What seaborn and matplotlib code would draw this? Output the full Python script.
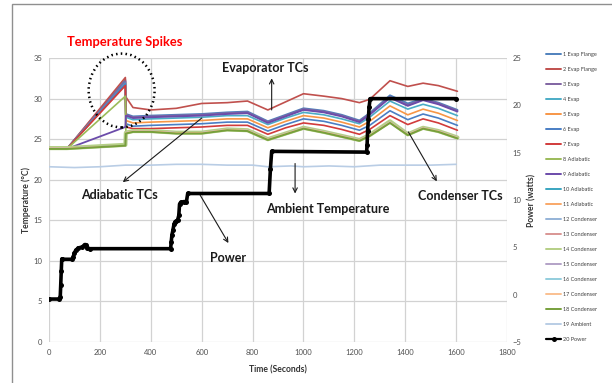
import matplotlib
matplotlib.use("Agg")
import matplotlib.pyplot as plt
import seaborn as sns
from matplotlib.patches import Ellipse, Rectangle

# ---------------- data ----------------
time_s = [0, 70, 300, 302, 330, 400, 500, 600, 700, 780, 860, 930, 1000,
          1080, 1150, 1220, 1260, 1340, 1410, 1470, 1530, 1605]

evap_flange_1 = [23.8, 23.8, 32.3, 28.1, 27.8, 27.9, 28.0, 28.1, 28.3, 28.4, 27.2,
                 28.0, 28.8, 28.5, 28.0, 27.3, 28.2, 30.4, 29.4, 30.0, 29.5, 28.6]
evap_flange_2 = [23.8, 23.8, 32.6, 30.2, 28.9, 28.6, 28.8, 29.4, 29.5, 29.7, 28.6,
                 29.6, 30.6, 30.3, 30.0, 29.5, 29.9, 32.2, 31.5, 31.9, 31.6, 30.9]
evap_3 = [23.8, 23.8, 32.1, 28.0, 27.7, 27.8, 27.9, 28.0, 28.2, 28.3, 27.1,
          27.9, 28.7, 28.4, 27.9, 27.2, 28.1, 30.2, 29.2, 29.9, 29.4, 28.5]
evap_4 = [23.8, 23.8, 31.9, 27.7, 27.4, 27.5, 27.6, 27.7, 27.9, 27.9, 26.8,
          27.6, 28.3, 28.0, 27.5, 26.9, 27.7, 29.7, 28.7, 29.3, 28.8, 27.9]
evap_5 = [23.8, 23.8, 31.7, 27.3, 27.0, 27.1, 27.2, 27.3, 27.5, 27.5, 26.4,
          27.2, 27.9, 27.6, 27.1, 26.5, 27.2, 29.1, 28.0, 28.7, 28.2, 27.3]
evap_6 = [23.8, 23.8, 31.8, 26.9, 26.6, 26.7, 26.8, 26.9, 27.1, 27.1, 26.0,
          26.8, 27.5, 27.2, 26.7, 26.1, 26.7, 28.5, 27.4, 28.1, 27.6, 26.7]
evap_7 = [23.8, 23.8, 31.6, 26.5, 26.3, 26.3, 26.4, 26.5, 26.7, 26.7, 25.6,
          26.4, 27.0, 26.7, 26.2, 25.6, 26.2, 27.9, 26.8, 27.5, 27.0, 26.1]
adiabatic_8 = [23.8, 23.8, 30.3, 25.9, 26.0, 26.0, 25.8, 25.8, 26.2, 26.1, 25.0,
               25.7, 26.4, 25.9, 25.4, 24.9, 25.5, 27.1, 25.6, 26.4, 26.0, 25.2]
adiabatic_9 = [23.8, 23.8, 26.5, 27.9, 27.6, 27.7, 27.8, 27.9, 28.1, 28.2, 27.0,
               27.8, 28.6, 28.3, 27.8, 27.1, 28.0, 30.1, 29.1, 29.8, 29.3, 28.4]
hidden_low = [23.9, 23.9, 24.2, 25.8, 26.0, 26.0, 25.8, 25.8, 26.2, 26.1, 25.0,
              25.7, 26.4, 25.9, 25.4, 24.9, 25.5, 27.1, 25.6, 26.4, 26.0, 25.2]
condenser_14 = [23.9, 23.9, 24.3, 25.8, 26.0, 26.0, 25.8, 25.8, 26.2, 26.1, 25.0,
                25.7, 26.4, 25.9, 25.4, 24.9, 25.5, 27.2, 25.6, 26.4, 26.0, 25.2]
condenser_18 = [23.8, 23.8, 24.2, 25.7, 25.9, 25.9, 25.7, 25.7, 26.1, 26.0, 24.9,
                25.6, 26.3, 25.8, 25.3, 24.8, 25.4, 27.0, 25.5, 26.3, 25.9, 25.1]

ambient_t = [0, 100, 200, 300, 400, 500, 600, 700, 800, 860, 950, 1000, 1100,
             1200, 1300, 1400, 1500, 1600]
ambient_c = [21.6, 21.5, 21.6, 21.8, 21.8, 21.9, 21.9, 21.8, 21.8, 21.6, 21.7,
             21.6, 21.7, 21.6, 21.8, 21.8, 21.8, 21.9]

power_t = [0, 40, 44, 46, 48, 50, 52, 90, 95, 100, 105, 115, 130, 140, 145, 150,
           160, 478, 480, 483, 487, 491, 495, 500, 505, 510, 513, 517, 530, 540,
           545, 865, 870, 875, 1248, 1250, 1252, 1255, 1258, 1262, 1600]
power_w = [-0.46, -0.46, -0.29, 1.0, 2.46, 3.74, 3.74, 3.74, 4.0, 4.43, 4.69, 4.94,
           5.03, 5.29, 5.29, 4.94, 4.86, 4.86, 5.54, 6.31, 6.83, 7.43, 7.69, 7.77,
           7.86, 8.37, 9.57, 9.74, 9.83, 9.83, 10.69, 10.69, 13.26, 15.14, 15.06,
           15.83, 17.29, 18.57, 19.86, 20.71, 20.71]

series_labels = ["1 Evap Flange", "2 Evap Flange", "3 Evap", "4 Evap", "5 Evap",
                 "6 Evap", "7 Evap", "8 Adiabatic", "9 Adiabatic", "10 Adiabatic",
                 "11 Adiabatic", "12 Condenser", "13 Condenser", "14 Condenser",
                 "15 Condenser", "16 Condenser", "17 Condenser", "18 Condenser"]
series_values = [evap_flange_1, evap_flange_2, evap_3, evap_4, evap_5, evap_6,
                 evap_7, adiabatic_8, adiabatic_9, hidden_low, hidden_low,
                 hidden_low, hidden_low, condenser_14, hidden_low, hidden_low,
                 hidden_low, condenser_18]
series_colors = ["#4F81BD", "#C0504D", "#8064A2", "#4BACC6", "#F79646", "#4A7EC4",
                 "#D13B3B", "#9BBB59", "#6B4BAA", "#3AA5C0", "#F9A868", "#95B3D7",
                 "#D99694", "#B5CF86", "#B3A2C7", "#93CDDD", "#FAC090", "#77A03C"]
series_widths = [1.4, 1.2, 1.4, 1.2, 1.2, 1.2, 1.2, 1.2, 1.3, 1.0, 1.0, 1.0, 1.0,
                 3.0, 1.0, 1.0, 1.0, 1.4]

# ---------------- style ----------------
sns.set_style("white")
plt.rcParams["font.family"] = ["Lato", "DejaVu Sans"]

fig = plt.figure(figsize=(6.12, 3.83), dpi=100)
ax = fig.add_axes([0.0801, 0.1070, 0.7484, 0.7415])
ax2 = ax.twinx()

handles = []
for lab, vals, col, lw in zip(series_labels, series_values, series_colors, series_widths):
    sns.lineplot(x=time_s, y=vals, ax=ax, color=col, lw=lw, legend=False)
    handles.append(ax.lines[-1])
sns.lineplot(x=ambient_t, y=ambient_c, ax=ax, color="#B9CDE5", lw=1.2, legend=False)
handles.append(ax.lines[-1])

sns.lineplot(x=power_t, y=power_w, ax=ax2, color="black", lw=2.6, marker="o",
             markersize=3.6, markeredgewidth=0, legend=False)
handles.append(ax2.lines[-1])
labels = series_labels + ["19 Ambient", "20 Power"]

# axes
ax.set_xlim(0, 1800)
ax.set_ylim(0, 35)
ax2.set_ylim(-5, 25)
ax.set_xticks(range(0, 1801, 200))
ax.set_yticks(range(0, 36, 5))
ax2.set_yticks(range(-5, 26, 5))
ax.grid(True, color="#d2d2d2", lw=0.9)
ax.set_axisbelow(True)
ax2.grid(False)
for a in (ax, ax2):
    for s in a.spines.values():
        s.set_visible(False)
    a.tick_params(length=0, labelsize=5.5, labelcolor="#505050")
ax.tick_params(axis="y", pad=5)
ax.tick_params(axis="x", pad=5)
ax2.tick_params(axis="y", pad=4)

ax.set_xlabel("Time (Seconds)", fontsize=6.2, fontweight="bold", color="#333333")
ax.set_ylabel("Temperature (°C)", fontsize=6.2, fontweight="bold", color="#333333")
ax2.set_ylabel("Power (watts)", fontsize=6.2, fontweight="bold", color="#333333")
ax.xaxis.set_label_coords(0.5, -0.082)
ax.yaxis.set_label_coords(-0.040, 0.5)
ax2.yaxis.set_label_coords(1.044, 0.5)

# annotations
ax.text(0.039, 1.056, "Temperature Spikes", transform=ax.transAxes, color="#FF0000",
        fontsize=9.3, fontweight="bold", ha="left", va="center")
ax2.add_patch(Ellipse((0.1585, 0.8856), width=0.144, height=0.26, transform=ax.transAxes,
                      fill=False, ec="black", lw=1.8, ls=(0, (0.6, 1.3)),
                      clip_on=False, zorder=10))

tkw = dict(fontsize=9, fontweight="bold", color="#1a1a1a", ha="center", va="center")
aprops = dict(arrowstyle="->", color="#1a1a1a", lw=0.8, mutation_scale=8,
              shrinkA=0, shrinkB=0)
ax.text(849, 33.8, "Evaporator TCs", **tkw)
ax.annotate("", xy=(875, 32.5), xytext=(875, 28.6), arrowprops=aprops)
ax.text(275, 18.1, "Adiabatic TCs", **tkw)
ax.annotate("", xy=(290, 19.7), xytext=(600, 27.6), arrowprops=aprops)
ax.text(1094, 16.4, "Ambient Temperature", **tkw)
ax.annotate("", xy=(967, 18.3), xytext=(967, 22.0), arrowprops=aprops)
ax.text(702, 10.35, "Power", **tkw)
ax.annotate("", xy=(705, 12.2), xytext=(594, 18.1), arrowprops=aprops)
ax.text(1616, 18.0, "Condenser TCs", **tkw)
ax.annotate("", xy=(1524, 19.8), xytext=(1412, 25.9), arrowprops=aprops)

# legend
leg = fig.legend(handles, labels, loc="upper left",
                 bbox_to_anchor=(546 / 612, 1 - 52 / 383), frameon=False, fontsize=4,
                 labelspacing=1.8, handlelength=2.7, handletextpad=0.3,
                 borderaxespad=0, borderpad=0, labelcolor="#404040", numpoints=1)
for ln in leg.get_lines()[:-1]:
    ln.set_linewidth(1.4)
leg.get_lines()[-1].set_linewidth(1.6)

# outer chart border
fig.patches.append(Rectangle((12 / 612, -0.05), 1.2, 1 - 4 / 383 + 0.05,
                             transform=fig.transFigure, fill=False,
                             ec="#8f8f8f", lw=1.0))

fig.savefig("out.png", dpi=100)
